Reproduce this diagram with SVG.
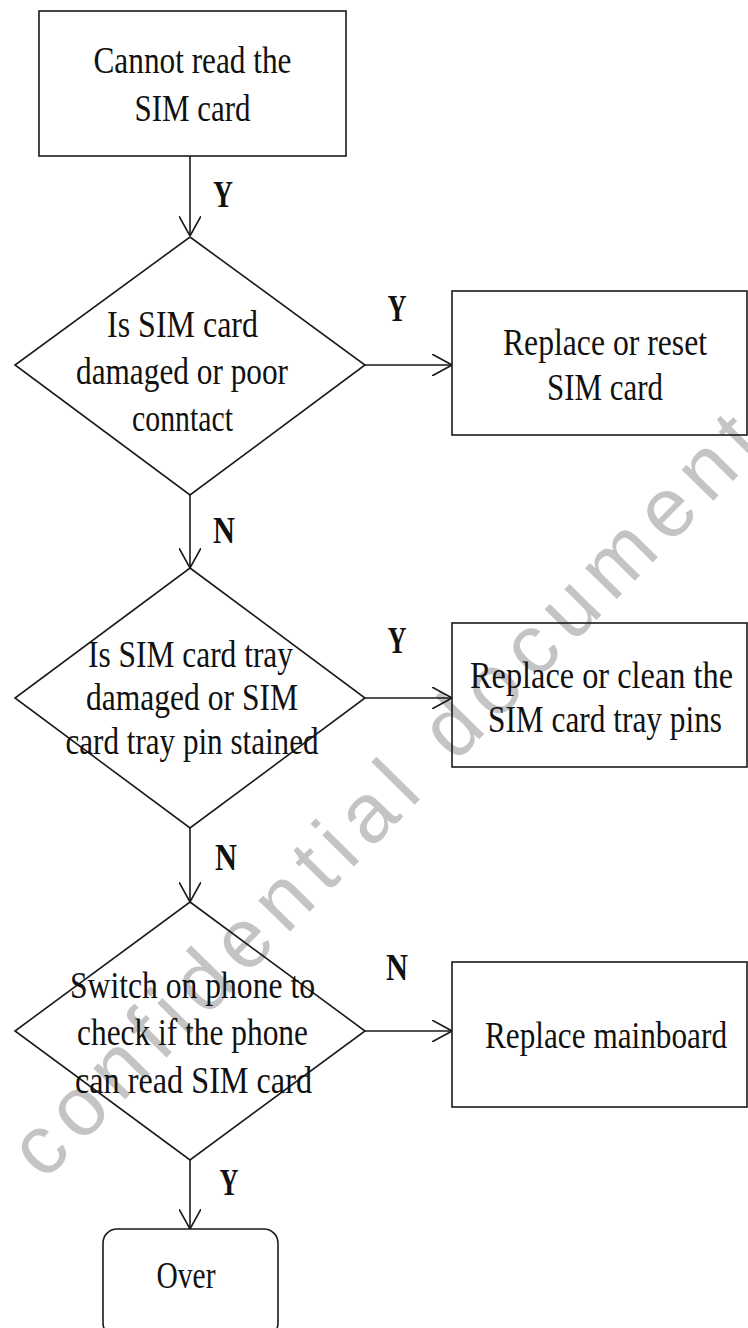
<svg xmlns="http://www.w3.org/2000/svg" width="748" height="1328" viewBox="0 0 748 1328">
  <style>
    .shape { fill: none; stroke: #1a1a1a; stroke-width: 1.6; }
    .t { font-family: "Liberation Serif", "Times New Roman", serif; font-size: 38px; fill: #111111; text-anchor: middle; }
    .lbl { font-family: "Liberation Serif", "Times New Roman", serif; font-size: 37px; font-weight: bold; fill: #111111; text-anchor: middle; }
    .wm { font-family: "Liberation Sans", Arial, sans-serif; font-size: 84px; fill: #c4c4c4; }
    .conn { stroke: #1a1a1a; stroke-width: 1.6; fill: none; }
  </style>
  <defs>
    <marker id="arrow" viewBox="0 0 20 22" refX="20" refY="11" markerWidth="20" markerHeight="22" markerUnits="userSpaceOnUse" orient="auto">
      <path d="M0,0 L20,11 L0,22" fill="none" stroke="#1a1a1a" stroke-width="1.6"/>
    </marker>
  </defs>
  <rect x="0" y="0" width="748" height="1328" fill="#ffffff"/>

  <g id="watermark">
    <text class="wm" transform="translate(44,1182) rotate(-45.5)" textLength="1030" lengthAdjust="spacing">confidential document</text>
  </g>

  <g id="connectors">
    <line class="conn" x1="190" y1="156" x2="190" y2="236" marker-end="url(#arrow)"/>
    <line class="conn" x1="365" y1="365" x2="452" y2="365" marker-end="url(#arrow)"/>
    <line class="conn" x1="190" y1="495" x2="190" y2="568" marker-end="url(#arrow)"/>
    <line class="conn" x1="365" y1="698" x2="452" y2="698" marker-end="url(#arrow)"/>
    <line class="conn" x1="190" y1="828" x2="190" y2="902" marker-end="url(#arrow)"/>
    <line class="conn" x1="365" y1="1031" x2="452" y2="1031" marker-end="url(#arrow)"/>
    <line class="conn" x1="190" y1="1160" x2="190" y2="1229" marker-end="url(#arrow)"/>
    <text class="lbl" x="223" y="207" textLength="20" lengthAdjust="spacingAndGlyphs">Y</text>
    <text class="lbl" x="397" y="321" textLength="19" lengthAdjust="spacingAndGlyphs">Y</text>
    <text class="lbl" x="224" y="543" textLength="22" lengthAdjust="spacingAndGlyphs">N</text>
    <text class="lbl" x="397" y="653" textLength="19" lengthAdjust="spacingAndGlyphs">Y</text>
    <text class="lbl" x="226" y="870" textLength="22" lengthAdjust="spacingAndGlyphs">N</text>
    <text class="lbl" x="397" y="980" textLength="22" lengthAdjust="spacingAndGlyphs">N</text>
    <text class="lbl" x="229" y="1195" textLength="19" lengthAdjust="spacingAndGlyphs">Y</text>
  </g>

  <g id="start">
    <rect class="shape" x="39" y="11" width="307" height="145"/>
    <text class="t" x="192.5" y="73" textLength="198" lengthAdjust="spacingAndGlyphs">Cannot read the</text>
    <text class="t" x="192.5" y="121" textLength="116" lengthAdjust="spacingAndGlyphs">SIM card</text>
  </g>

  <g id="decision1">
    <polygon class="shape" points="190,237 365,365 190,495 15,365"/>
    <text class="t" x="182.5" y="337" textLength="151" lengthAdjust="spacingAndGlyphs">Is SIM card</text>
    <text class="t" x="182" y="384" textLength="212" lengthAdjust="spacingAndGlyphs">damaged or poor</text>
    <text class="t" x="182.5" y="431" textLength="101" lengthAdjust="spacingAndGlyphs">conntact</text>
  </g>

  <g id="action1">
    <rect class="shape" x="452" y="291" width="295" height="144"/>
    <text class="t" x="605" y="355" textLength="204" lengthAdjust="spacingAndGlyphs">Replace or reset</text>
    <text class="t" x="605" y="400" textLength="116" lengthAdjust="spacingAndGlyphs">SIM card</text>
  </g>

  <g id="decision2">
    <polygon class="shape" points="190,568 365,698 190,828 15,698"/>
    <text class="t" x="190.5" y="667" textLength="205" lengthAdjust="spacingAndGlyphs">Is SIM card tray</text>
    <text class="t" x="192" y="710" textLength="212" lengthAdjust="spacingAndGlyphs">damaged or SIM</text>
    <text class="t" x="192" y="754" textLength="253" lengthAdjust="spacingAndGlyphs">card tray pin stained</text>
  </g>

  <g id="action2">
    <rect class="shape" x="452" y="623" width="295" height="144"/>
    <text class="t" x="601.5" y="688" textLength="263" lengthAdjust="spacingAndGlyphs">Replace or clean the</text>
    <text class="t" x="605" y="732" textLength="234" lengthAdjust="spacingAndGlyphs">SIM card tray pins</text>
  </g>

  <g id="decision3">
    <polygon class="shape" points="190,902 365,1031 190,1160 15,1031"/>
    <text class="t" x="192.5" y="998" textLength="245" lengthAdjust="spacingAndGlyphs">Switch on phone to</text>
    <text class="t" x="192.5" y="1045" textLength="231" lengthAdjust="spacingAndGlyphs">check if the phone</text>
    <text class="t" x="193.5" y="1093" textLength="237" lengthAdjust="spacingAndGlyphs">can read SIM card</text>
  </g>

  <g id="action3">
    <rect class="shape" x="452" y="962" width="295" height="145"/>
    <text class="t" x="606" y="1048" textLength="242" lengthAdjust="spacingAndGlyphs">Replace mainboard</text>
  </g>

  <g id="end">
    <rect class="shape" x="103" y="1229" width="175" height="108" rx="14" ry="14"/>
    <text class="t" x="186" y="1288" textLength="59" lengthAdjust="spacingAndGlyphs">Over</text>
  </g>
</svg>
